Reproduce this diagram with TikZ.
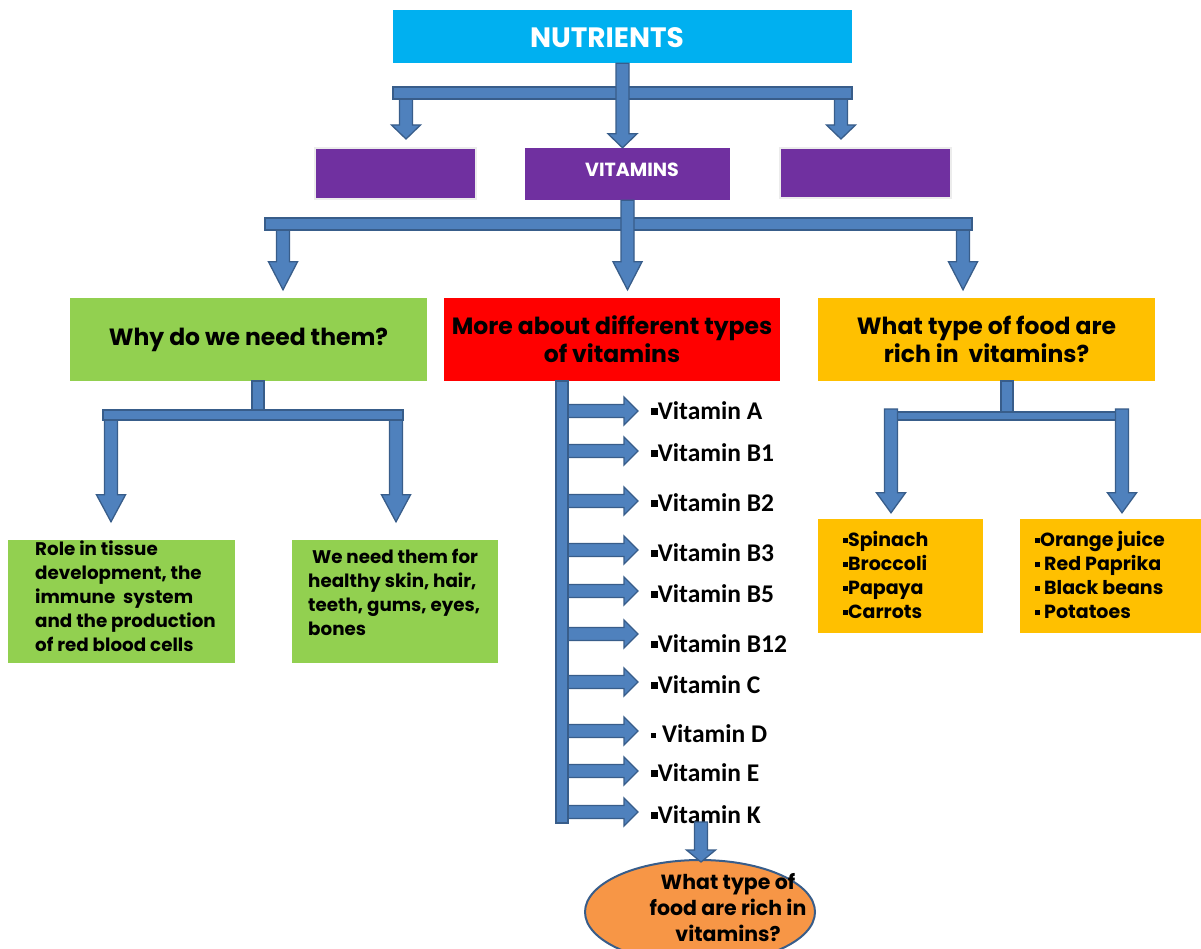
\documentclass[tikz,border=0pt]{standalone}
\usepackage{fontspec}
\setmainfont{Poppins}
\newfontfamily\calfont{Carlito}
\usetikzlibrary{calc,shapes.geometric}
\definecolor{cyanN}{HTML}{00B0F0}
\definecolor{purp}{HTML}{7030A0}
\definecolor{grn}{HTML}{92D050}
\definecolor{redb}{HTML}{FF0000}
\definecolor{gold}{HTML}{FFC000}
\definecolor{afill}{HTML}{4F81BD}
\definecolor{aline}{HTML}{385D8A}
\definecolor{ellf}{HTML}{F79646}
\newcommand\sqb{\rule[0.2em]{0.26em}{0.26em}}
\tikzset{
  barr/.style={fill=afill,draw=aline,line width=1.3pt,line join=miter},
  box/.style={rectangle,inner sep=0pt},
  vlab/.style={anchor=west,inner sep=0pt,font=\calfont\bfseries\fontsize{25.5}{28}\selectfont},
  btext/.style={inner sep=0pt,font=\bfseries\fontsize{18.3}{24}\selectfont},
  ttext/.style={font=\bfseries\fontsize{23.5}{28}\selectfont},
}
% down block arrow: start, tip (x taken from start, y from tip)
\newcommand\bdown[3][20pt]{%
  \path[barr] let \p1=(#2), \p2=(#3) in
  (\x1-6.5pt,\y1) -- (\x1+6.5pt,\y1) -- (\x1+6.5pt,\y2+#1) -- (\x1+14.5pt,\y2+#1)
  -- (\x1,\y2) -- (\x1-14.5pt,\y2+#1) -- (\x1-6.5pt,\y2+#1) -- cycle;}
% right block arrow: start, tip (y taken from start, x from tip)
\newcommand\bright[3][14pt]{%
  \path[barr] let \p1=(#2), \p2=(#3) in
  (\x1,\y1+6.5pt) -- (\x2-#1,\y1+6.5pt) -- (\x2-#1,\y1+14pt) -- (\x2,\y1)
  -- (\x2-#1,\y1-14pt) -- (\x2-#1,\y1-6.5pt) -- (\x1,\y1-6.5pt) -- cycle;}
\begin{document}
\begin{tikzpicture}[x=1pt,y=-1pt]
\useasboundingbox (0,0) rectangle (1201,949);
\clip (0,0) rectangle (1201,949);
\fill[white] (0,0) rectangle (1201,949);

% ---------- boxes ----------
\node[box,fill=cyanN,minimum width=459,minimum height=53] (nut) at (622.5,36.5) {};
\node[inner sep=0pt,text=white,font=\bfseries\fontsize{28}{30}\selectfont] (nutT) at (607,38) {NUTRIENTS};
\node[box,fill=purp,draw=gray!15,line width=2pt,minimum width=161,minimum height=51] (e1) at (395.5,173.5) {};
\node[box,fill=purp,minimum width=205,minimum height=52] (vit) at (627.5,174) {};
\node[inner sep=0pt,text=white,font=\bfseries\fontsize{19}{22}\selectfont] (vitT) at (632,170) {VITAMINS};
\node[box,fill=purp,draw=gray!15,line width=2pt,minimum width=171,minimum height=50] (e2) at (865.5,173) {};

\node[box,fill=grn,minimum width=357,minimum height=83,ttext] (why) at (248.5,339.5) {Why do we need them?};
\node[box,fill=redb,minimum width=336,minimum height=83,align=center,ttext] (more) at (612,339.5) {More about different types\\of vitamins};
\node[box,fill=gold,minimum width=337,minimum height=83,align=center,ttext] (food) at (986.5,339.5) {What type of food are\\rich in\ \ vitamins?};

\node[box,fill=grn,minimum width=227,minimum height=123] (role) at (121.5,601.5) {};
\node[btext,anchor=north west,align=left] (roleT) at (35,541) {Role in tissue\\development, the\\immune\ \ system\\and the production\\of red blood cells};
\node[box,fill=grn,minimum width=206,minimum height=123] (need) at (395,601.5) {};
\node[btext,anchor=north west,align=left] (needT) at (308,549) {\ We need them for\\healthy skin, hair,\\teeth, gums, eyes,\\bones};

\node[box,fill=gold,minimum width=165,minimum height=114] (fruitL) at (900.5,576) {};
\node[btext,anchor=north west,align=left,font=\bfseries\fontsize{19}{24}\selectfont] (fruitLT) at (843,531)
  {\sqb Spinach\\\sqb Broccoli\\\sqb Papaya\\\sqb Carrots};
\node[box,fill=gold,minimum width=181,minimum height=114] (fruitR) at (1110.5,576) {};
\node[btext,anchor=north west,align=left,font=\bfseries\fontsize{19}{24}\selectfont] (fruitRT) at (1035,531)
  {\sqb Orange juice\\\sqb\ Red Paprika\\\sqb\ Black beans\\\sqb\ Potatoes};

\node[ellipse,fill=ellf,draw=aline,line width=2pt,minimum width=230,minimum height=104,inner sep=0pt] (ell) at (700,912) {};
\node[inner sep=0pt,align=center,font=\bfseries\fontsize{20.5}{26}\selectfont] (ellT) at (728,908)
  {What type of\\food are rich in\\vitamins?};

% ---------- level 1 ----------
\bdown[14pt]{406,93}{[yshift=8pt]e1.north}
\bdown[14pt]{841,93}{[yshift=8pt]e2.north}
\path[barr] (393,87) rectangle (852,99);
\bdown[14pt]{nut.south}{vit.north}

% ---------- level 2 ----------
\bdown[28pt]{283,224}{[yshift=8pt]why.north}
\bdown[28pt]{963,224}{[yshift=8pt]food.north}
\path[barr] (265,218) rectangle (972,230);
\bdown[28pt]{vit.south}{[yshift=8pt]more.north}

% ---------- green branch ----------
\path[barr] (252,381) rectangle (264,415);
\bdown[27pt]{111,415}{[yshift=18pt]role.north}
\bdown[27pt]{396,415}{[yshift=18pt]need.north}
\path[barr] (103,410) rectangle (403,420);

% ---------- orange branch ----------
\path[barr] (1001,381) rectangle (1013,416);
\path[barr] (891,412) rectangle (1116,420);
\bdown[20pt]{891,409}{[yshift=6pt]fruitL.north}
\bdown[20pt]{1122,409}{[yshift=6pt]fruitR.north}

% ---------- vitamins list ----------
\node[vlab] (vA)   at (651,411) {\sqb Vitamin A};
\node[vlab] (vB1)  at (651,453) {\sqb Vitamin B1};
\node[vlab] (vB2)  at (651,503) {\sqb Vitamin B2};
\node[vlab] (vB3)  at (651,553) {\sqb Vitamin B3};
\node[vlab] (vB5)  at (651,594) {\sqb Vitamin B5};
\node[vlab] (vB12) at (651,644) {\sqb Vitamin B12};
\node[vlab] (vC)   at (651,685) {\sqb Vitamin C};
\node[vlab] (vD)   at (651,734) {\rule[0.2em]{0.2em}{0.2em} Vitamin D};
\node[vlab] (vE)   at (651,773) {\sqb Vitamin E};
\node[vlab] (vK)   at (651,815) {\sqb Vitamin K};

\foreach \nm/\yy in {vA/411,vB1/451,vB2/501,vB3/550,vB5/591,vB12/634,vC/682,vD/731,vE/771,vK/812}{
  \bright{562,\yy}{[xshift=-13pt]\nm.west}
}
\path[barr] (556,381) rectangle (568,823);

\bdown[12pt]{701,822}{[yshift=-3pt]ell.north}
\end{tikzpicture}
\end{document}
